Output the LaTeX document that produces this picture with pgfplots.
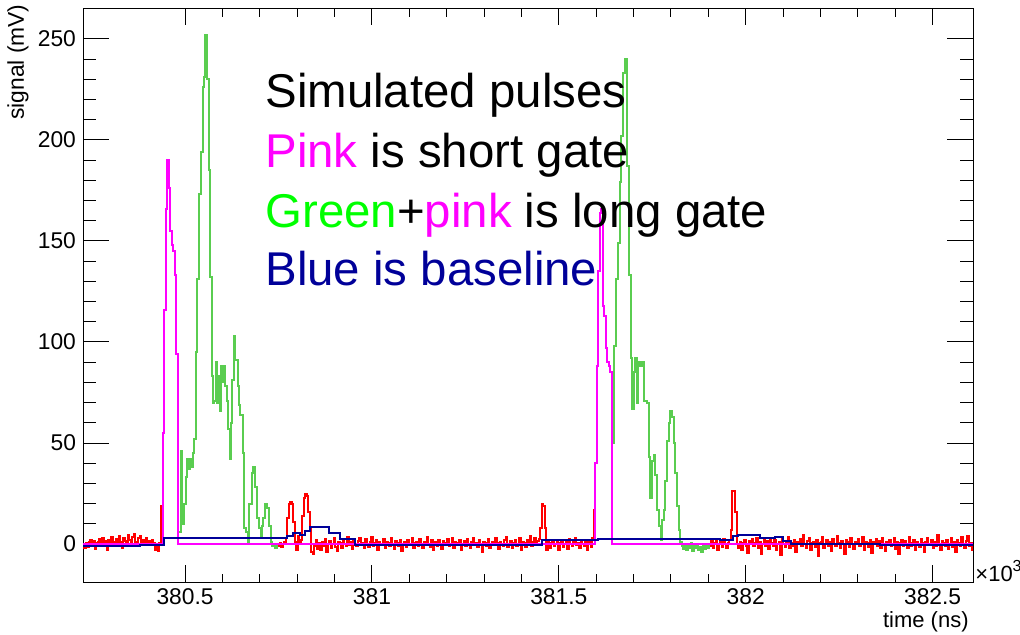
\documentclass[border=0pt]{standalone}
\usepackage{fontspec}
\setmainfont{Liberation Sans}
\usepackage{pgfplots}
\pgfplotsset{compat=1.18}
\definecolor{rred}{RGB}{255,0,0}
\definecolor{rmag}{RGB}{255,0,255}
\definecolor{rgreenline}{RGB}{90,205,80}
\definecolor{rgreen}{RGB}{0,255,0}
\definecolor{rblue}{RGB}{0,0,153}
\begin{document}
\begin{tikzpicture}
\path[use as bounding box] (-41.5pt,-26pt) rectangle (468.5pt,291pt);
\begin{axis}[
  at={(0,0)}, anchor=south west,
  scale only axis, width=445pt, height=287pt,
  xmin=380.227, xmax=382.608, ymin=-18.8, ymax=265.3,
  xtick={380.5,381,381.5,382,382.5},
  xticklabels={380.5,381,381.5,382,382.5},
  minor x tick num=4,
  ytick={0,50,100,150,200,250},
  minor y tick num=4,
  tick align=inside,
  major tick length=13pt, minor tick length=6.5pt,
  xtick style={/pgfplots/major tick length=8.5pt,/pgfplots/minor tick length=4.25pt},
  axis line style={black, line width=0.5pt},
  every tick/.style={black, line width=0.5pt},
  tick label style={font=\fontsize{11.4}{13}\selectfont},
  /pgf/number format/assume math mode=true,
  scaled x ticks=false,
  const plot mark left,
  every axis plot/.append style={line width=1pt, mark=none},
]
% red raw signal, segment 1
\addplot[rred] table[header=false,row sep=\\,x expr=380.227+0.004*\coordindex,y index=0] {
-1\\-2\\0.5\\-1.5\\1\\2\\-0.5\\1.5\\-2.5\\0.5\\
1\\2.5\\-1\\3\\0\\1.5\\-3\\2\\0.5\\3.5\\
-1\\1\\2.5\\0\\4\\1\\-2\\3\\1.5\\0\\
4.5\\2\\0.5\\3.5\\5\\1\\-1\\3\\4\\0.5\\
2\\1\\3\\0\\1.5\\-0.5\\2\\0.5\\-3\\-1\\
-3.5\\0.5\\19\\19\\
};
% red segment 2
\addplot[rred] table[header=false,row sep=\\,x expr=380.750+0.004*\coordindex,y index=0] {
-1\\0.5\\-1.5\\0\\1\\
3\\13\\20\\21\\20\\11\\1\\-3\\4\\0\\2\\14\\23\\25\\24\\16\\8\\-4\\-5\\
-1\\2\\-2.5\\0.5\\-3\\1\\-1\\2.5\\-4\\0\\
1.5\\-2\\0\\3\\-1.5\\-3.5\\1\\0.5\\-2\\2\\
0\\-1\\3.5\\-0.5\\1\\-2.5\\2\\0\\-1\\1.5\\
3\\-0.5\\0.5\\-2\\2.5\\0\\-1.5\\1\\3.5\\-1\\
0.5\\2\\-3\\1\\-0.5\\0\\2.5\\-2\\1\\0.5\\
-1\\3\\0\\-2.5\\1.5\\0.5\\-1\\2\\-3.5\\0\\
1\\-1.5\\2\\0\\-0.5\\3\\-2\\0.5\\1\\-1\\
2.5\\0\\-2\\1\\-0.5\\3.5\\0\\-1.5\\2\\-3\\
0.5\\1\\-1\\2\\0\\-2.5\\1.5\\0.5\\-0.5\\2.5\\
-1\\0\\3\\-2\\1\\-0.5\\0.5\\2\\-3\\0\\
1.5\\-1\\2.5\\0\\-2\\1\\3\\-0.5\\0.5\\-1.5\\
2\\0\\-4\\1\\0.5\\-1\\2.5\\-2\\0\\1\\
-0.5\\3\\0.5\\-2.5\\1\\0\\-1\\2\\3.5\\-1.5\\
0\\1.5\\-2\\0.5\\2\\-1\\0\\3\\-3\\1\\
0.5\\-1.5\\2\\0\\4\\-1\\1\\3\\0.5\\1.5\\2.5\\
8\\20\\19\\8\\-3\\
1\\-2\\0.5\\2\\-1\\0\\1.5\\-3\\0.5\\2\\
-1.5\\0\\1\\-2.5\\2.5\\0\\-1\\1\\3\\-0.5\\
0.5\\-2\\1.5\\0\\-1\\2\\-3\\0.5\\1\\-1.5\\3\\
17\\17\\
};
% red segment 3
\addplot[rred] table[header=false,row sep=\\,x expr=381.904+0.004*\coordindex,y index=0] {
-1\\1.5\\-2\\0.5\\2\\-3\\0\\1\\-1.5\\2.5\\0\\-2\\0.5\\
2\\7\\26\\26\\16\\0\\-2\\
1\\-3\\0.5\\2\\-1\\-4.5\\1.5\\0\\2.5\\-1\\
0.5\\3\\-2\\1\\-5\\0\\2\\-1\\1.5\\-2.5\\
3\\0.5\\-1\\2\\-3\\0\\1\\-5.5\\2.5\\0\\
-1.5\\1\\3.5\\-2\\0.5\\-1\\2\\-4\\1\\0\\
2.5\\-1\\4.5\\0\\-2\\1.5\\3\\-3\\0.5\\1\\
-1.5\\2\\-6\\0.5\\1\\3.5\\-2\\0\\2\\-1\\
1\\-3.5\\2.5\\0\\-1\\4\\0.5\\-2\\1.5\\0\\
-5\\2\\1\\-1.5\\3\\0\\-2.5\\1\\0.5\\2.5\\
-1\\0\\3.5\\-3\\1\\0.5\\-1.5\\2\\-4.5\\1\\
0\\2.5\\-1\\1.5\\-2\\3\\0\\-3.5\\1\\0.5\\
2\\-1\\0\\3\\-2.5\\1\\-5\\0.5\\2\\-1\\
1.5\\0\\-2\\3.5\\-1\\0.5\\2\\-3\\1\\0\\
-1.5\\2.5\\0.5\\-4\\1\\3\\-0.5\\0\\2\\-2\\
1\\-1\\4.5\\0\\-3\\1.5\\0.5\\-1\\2\\-2.5\\
0\\3\\-1.5\\1\\-4\\2\\0.5\\-1\\3.5\\0\\
-2\\1.5\\4\\-1\\0.5\\-3\\0\\
};
% green: long gate
\addplot[rgreenline] coordinates {
(380.482,6) (380.490,46) (380.493,10) (380.497,20) (380.503,33) (380.506,42) (380.510,37) (380.514,42) (380.517,38) (380.521,45) (380.525,52) (380.528,95) (380.533,131) (380.538,173) (380.542,194) (380.547,226) (380.551,231) (380.554,252) (380.559,230) (380.563,185) (380.567,132) (380.571,83) (380.574,70) (380.578,71) (380.582,90) (380.585,70) (380.589,83) (380.593,66) (380.597,88) (380.600,80) (380.604,88) (380.608,78) (380.611,71) (380.615,57) (380.619,42) (380.622,60) (380.626,81) (380.630,103) (380.633,91) (380.637,91) (380.641,78) (380.644,69) (380.648,64) (380.652,64) (380.656,45) (380.659,8) (380.663,6) (380.668,0) (380.672,20) (380.678,35) (380.683,38) (380.688,28) (380.692,13) (380.697,8) (380.702,3) (380.705,9) (380.709,13) (380.715,20) (380.720,18) (380.725,9) (380.729,1) (380.733,-1) (380.737,0) (380.741,-2) (380.745,-1) (380.750,-1)
};
\addplot[rgreenline] coordinates {
(381.642,68) (381.645,50) (381.648,98) (381.653,131) (381.658,149) (381.663,179) (381.667,202) (381.672,233) (381.676,240) (381.683,187) (381.688,133) (381.692,92) (381.697,67) (381.700,85) (381.704,92) (381.708,70) (381.713,90) (381.717,88) (381.723,90) (381.727,71) (381.732,71) (381.736,70) (381.740,43) (381.745,23) (381.749,41) (381.754,44) (381.758,34) (381.763,17) (381.767,9) (381.772,2) (381.776,12) (381.781,17) (381.785,31) (381.790,51) (381.794,60) (381.798,66) (381.803,63) (381.807,50) (381.812,35) (381.816,19) (381.821,7) (381.825,1) (381.829,-1) (381.833,-2.5) (381.837,0) (381.841,-3) (381.845,-1) (381.849,-2) (381.853,0.5) (381.857,-3.5) (381.861,-1) (381.865,-2) (381.869,-0.5) (381.873,-3) (381.877,-1.5) (381.881,-4) (381.885,-1) (381.889,-2.5) (381.893,0) (381.897,-2) (381.901,-1) (381.904,-1)
};
% pink: short gate
\addplot[rmag] coordinates {
(380.227,0) (380.440,55) (380.444,116) (380.448,166) (380.452,190) (380.456,176) (380.460,155) (380.464,148) (380.468,145) (380.472,133) (380.476,94) (380.482,0) (381.597,40) (381.601,88) (381.605,135) (381.609,164) (381.613,166) (381.617,118) (381.621,113) (381.625,97) (381.629,90) (381.633,88) (381.637,85) (381.642,0) (382.608,0)
};
% blue: baseline
\addplot[rblue] coordinates {
(380.227,-1) (380.380,-0.3) (380.443,3) (380.772,3.8) (380.790,5.4) (380.808,4.6) (380.821,6.6) (380.835,8.2) (380.884,5.4) (380.915,2.5) (380.955,-0.7) (381.150,-0.4) (381.300,-0.6) (381.455,2) (381.605,2.4) (381.930,2) (381.967,4.1) (381.980,4.6) (382.038,2.8) (382.078,3.3) (382.100,1.6) (382.120,0.2) (382.360,-0.3) (382.608,-0.3)
};
\begin{scope}[every node/.style={anchor=base west, inner sep=0pt, font=\fontsize{23.7}{28}\selectfont}]
\node at (axis cs:380.714,216.3) {Simulated pulses};
\node at (axis cs:380.714,186.6) {\textcolor{rmag}{Pink} is short gate};
\node at (axis cs:380.714,156.9) {\textcolor{rgreen}{Green}+\textcolor{rmag}{pink} is long gate};
\node at (axis cs:380.714,128.2) {\textcolor{rblue}{Blue is baseline}};
\end{scope}
\end{axis}
\node[rotate=90, anchor=east, inner sep=0pt, font=\fontsize{11.4}{13}\selectfont] at (-32.5pt,289pt) {signal (mV)};
\node[anchor=base east, inner sep=0pt, font=\fontsize{11}{13}\selectfont] at (443pt,-22.5pt) {time (ns)};
\node[anchor=base west, inner sep=0pt, font=\fontsize{11}{13}\selectfont] at (446pt,0.5pt) {×10\raisebox{0.45em}{\fontsize{8}{9}\selectfont 3}};
\end{tikzpicture}
\end{document}
